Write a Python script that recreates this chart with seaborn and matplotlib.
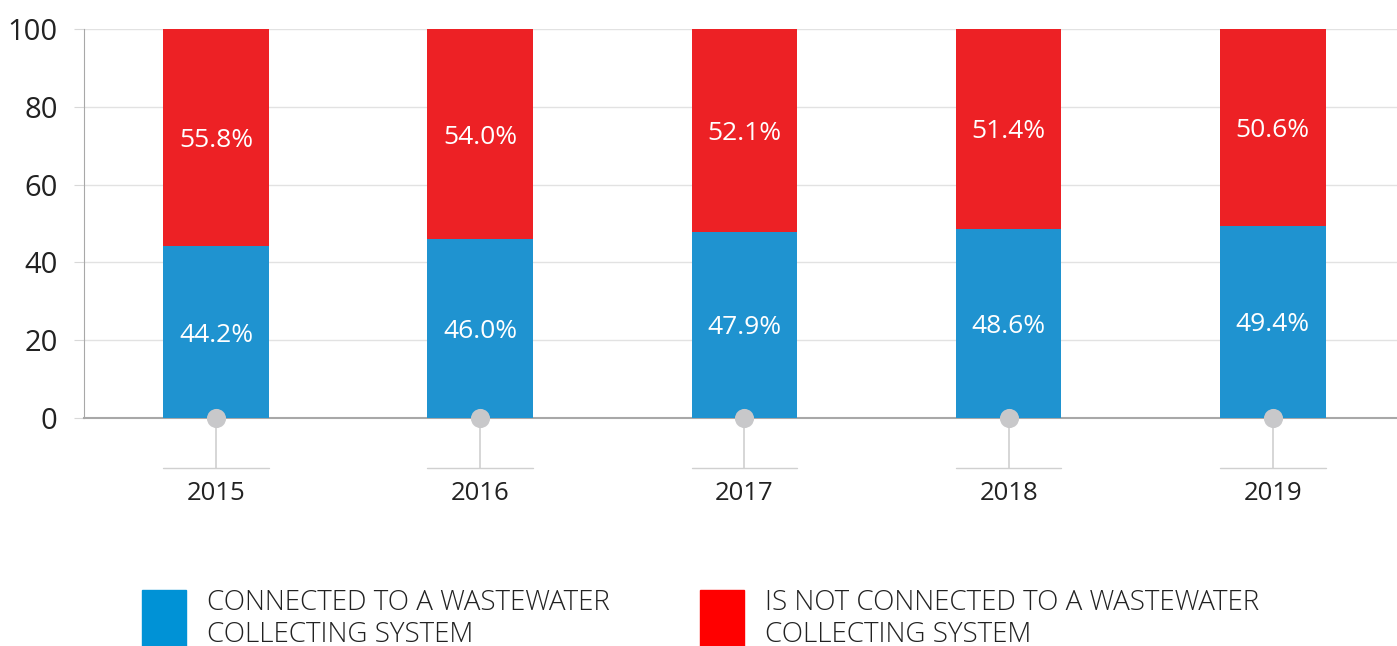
import matplotlib
matplotlib.use("Agg")
import matplotlib.pyplot as plt
import matplotlib.patches as mpatches
import pandas as pd
import seaborn as sns

years = ["2015", "2016", "2017", "2018", "2019"]
connected = [44.2, 46.0, 47.9, 48.6, 49.4]
not_connected = [55.8, 54.0, 52.1, 51.4, 50.6]
yticks = [0, 20, 40, 60, 80, 100]
legend_labels = ["CONNECTED TO A WASTEWATER\nCOLLECTING SYSTEM",
                 "IS NOT CONNECTED TO A WASTEWATER\nCOLLECTING SYSTEM"]

BLUE = "#1f93d0"
RED = "#ed2125"
LEG_BLUE = "#0092d6"
LEG_RED = "#ff0000"

sns.set_style("white")
plt.rcParams["font.family"] = ["Open Sans", "DejaVu Sans"]

df = pd.DataFrame({"year": years, "connected": connected,
                   "not_connected": not_connected})
df["total"] = df["connected"] + df["not_connected"]

fig = plt.figure(figsize=(13.97, 6.46), dpi=100)
ax = fig.add_axes([84 / 1397, 1 - 418 / 646, 1 - 84 / 1397, (418 - 29) / 646])

# stacked bars: full height in red, connected share in blue on top
sns.barplot(data=df, x="year", y="total", color=RED, width=0.4,
            saturation=1, linewidth=0, ax=ax, zorder=2)
sns.barplot(data=df, x="year", y="connected", color=BLUE, width=0.4,
            saturation=1, linewidth=0, ax=ax, zorder=3)

for i, (c, n) in enumerate(zip(connected, not_connected)):
    ax.text(i, c / 2, f"{c:.1f}%", ha="center", va="center_baseline",
            color="white", fontsize=19, zorder=5)
    ax.text(i, c + n / 2, f"{n:.1f}%", ha="center", va="center_baseline",
            color="white", fontsize=19, zorder=5)
    # short base line under each year
    ax.plot([i - 0.2, i + 0.2], [-12.9, -12.9], color="#d0d0d0", lw=1,
            clip_on=False, zorder=1)

ax.scatter(range(len(years)), [0] * len(years), s=190, color="#c8c8ca",
           zorder=6, clip_on=False, linewidths=0)

ax.set_xlim(-0.5, 4.47)
ax.set_ylim(0, 100)
ax.set_yticks(yticks)
ax.yaxis.grid(True, color="#e2e2e2", lw=1)
ax.set_axisbelow(True)
ax.set_xlabel("")
ax.set_ylabel("")

for s in ["top", "right"]:
    ax.spines[s].set_visible(False)
ax.spines["left"].set_color("#a8a8a8")
ax.spines["bottom"].set_color("#a8a8a8")
ax.spines["bottom"].set_linewidth(1.5)

ax.tick_params(axis="y", left=True, length=7, color="#d8d8d8", pad=12,
               labelsize=21, labelcolor="#222222")
ax.tick_params(axis="x", bottom=True, length=36, width=1.2, color="#d0d0d0",
               pad=9, labelsize=18.5, labelcolor="#222222", direction="out")

# legend
for k, (lab, col) in enumerate(zip(legend_labels, [LEG_BLUE, LEG_RED])):
    x0 = [142, 700][k]
    fig.add_artist(mpatches.Rectangle((x0 / 1397, 0), 44 / 1397, 56 / 646,
                                      transform=fig.transFigure, color=col))
    fig.text((x0 + 65) / 1397, 1 - 619 / 646, lab, fontsize=20,
             fontweight="light", color="#222222", va="center", ha="left",
             linespacing=1.15)

fig.savefig("out.png", dpi=100)
